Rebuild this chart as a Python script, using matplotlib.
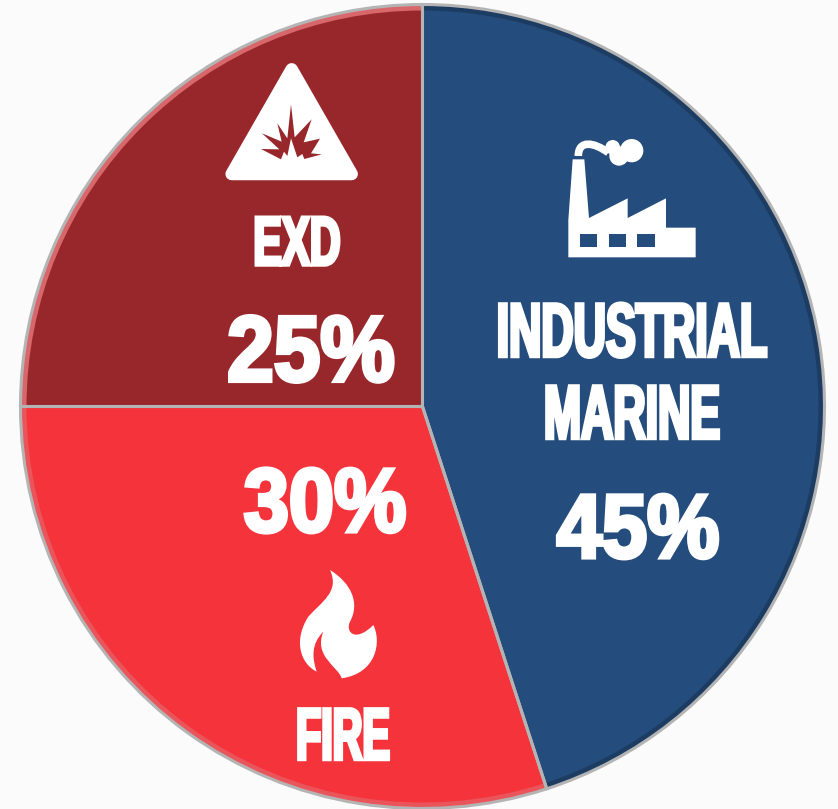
import matplotlib
matplotlib.use("AGG")
import matplotlib.pyplot as plt
import matplotlib.patheffects as pe
from matplotlib.patches import Circle, PathPatch, Polygon, Rectangle
from matplotlib.path import Path
from matplotlib.transforms import Affine2D

W, H = 838, 809

#values
categories = ["INDUSTRIAL\nMARINE", "FIRE", "EXD"]
shares = [45, 30, 25]
share_labels = ["45%", "30%", "25%"]
colors = ["#244c7c", "#f4333b", "#98272b"]
rim_colors = ["#1d3c62", "#e9555a", "#d8676b"]

plt.rcParams["font.family"] = ["Liberation Sans", "DejaVu Sans"]

#squeezes a text sideways around its centre and fattens it, no condensed face is installed
class Condensed(pe.AbstractPathEffect):
    def __init__(self, cx, squeeze, stroke, shift=0):
        super().__init__()
        self.cx = cx
        self.squeeze = squeeze
        self.stroke = stroke
        self.shift = shift

    def draw_path(self, renderer, gc, tpath, affine, rgbFace=None):
        narrow = affine + Affine2D().translate(-self.cx, 0).scale(self.squeeze, 1).translate(self.cx + self.shift, 0)
        gc0 = renderer.new_gc()
        gc0.copy_properties(gc)
        gc0.set_foreground("white")
        gc0.set_linewidth(self.stroke)
        gc0.set_joinstyle("miter")
        renderer.draw_path(gc0, tpath, narrow, rgbFace)
        gc0.restore()

#converts picture pixels (y down) to axes coordinates (y up)
def px(x, y):
    return (x, H - y)

#converts a 3x zoom crop coordinate to axes coordinates
def crop(points, x0, y0):
    return [px(x0 + x / 3, y0 + y / 3) for x, y in points]

#shift keeps the unsqueezed text box clear of edges and neighbours, the squeezed glyphs land back on x
def label(x, y, s, size, squeeze, stroke=2.5, shift=0):
    t = ax.text(*px(x - shift, y), s, color="white", fontsize=size, fontweight="bold",
                ha="center", va="center", linespacing=1.2, zorder=6)
    t.set_path_effects([Condensed(x - shift, squeeze, stroke, shift)])

fig = plt.figure(figsize=(W / 100, H / 100), dpi=100, facecolor="#fbfbfb")
ax = fig.add_axes([0, 0, 1, 1])

center = px(422.5, 406.5)

#outer pie is the bevelled rim, inner pie carries the flat colours, last one the grey seams
ax.pie(shares, colors=rim_colors, startangle=90, counterclock=False, center=center,
       radius=402, wedgeprops={"edgecolor": "none"})
ax.pie(shares, colors=colors, startangle=90, counterclock=False, center=center,
       radius=396, wedgeprops={"edgecolor": "none"})
ax.pie(shares, colors=["none"] * 3, startangle=90, counterclock=False, center=center,
       radius=402, wedgeprops={"edgecolor": "#b4b4b4", "linewidth": 2.2, "facecolor": "none"})

ax.set_xlim(0, W)
ax.set_ylim(0, H)
ax.set_aspect("equal")
ax.axis("off")

#triangle warning icon
tri = crop([(245, 58), (65, 372), (425, 372)], 210, 50)
ax.add_patch(Polygon(tri, closed=True, facecolor="white", edgecolor="white", linewidth=9,
                     joinstyle="round", zorder=5))
burst = crop([(243, 163), (254, 262), (305, 208), (281, 277), (330, 266), (303, 310), (335, 313),
              (283, 327), (277, 312), (262, 322), (243, 265), (232, 318), (222, 305), (213, 328),
              (153, 297), (208, 298), (156, 250), (215, 275), (202, 220), (232, 265)], 210, 50)
ax.add_patch(Polygon(burst, closed=True, facecolor=colors[2], edgecolor="none", zorder=6))

#factory icon
factory = crop([(55, 382), (437, 382), (437, 293), (348, 293), (348, 205), (233, 264), (233, 205),
                (117, 264), (103, 88), (68, 88), (55, 270)], 550, 130)
ax.add_patch(Polygon(factory, closed=True, facecolor="white", edgecolor="none", zorder=5))
for wx in [90, 176, 262]:
    ax.add_patch(Rectangle(px(550 + wx / 3, 130 + 352 / 3), 52 / 3, 40 / 3,
                           facecolor=colors[0], edgecolor="none", zorder=6))
for cx, cy, r in [(245, 62, 35), (207, 78, 29), (188, 52, 22)]:
    ax.add_patch(Circle(px(550 + cx / 3, 130 + cy / 3), r / 3, facecolor="white", edgecolor="none", zorder=5))
smoke = Path(crop([(85, 78), (85, 30), (130, 35), (175, 68)], 550, 130),
             [Path.MOVETO, Path.CURVE4, Path.CURVE4, Path.CURVE4])
ax.add_patch(PathPatch(smoke, facecolor="none", edgecolor="white", linewidth=5.5, zorder=5))

#flame icon
flame_pts = [(150, 30),
             (215, 70), (240, 130), (210, 185),
             (195, 215), (225, 250), (280, 195),
             (305, 245), (290, 340), (185, 355),
             (175, 320), (100, 290), (130, 215),
             (95, 250), (95, 290), (110, 335),
             (60, 310), (40, 240), (85, 170),
             (125, 125), (180, 95), (150, 30)]
flame_codes = [Path.MOVETO] + [Path.CURVE4] * 21
ax.add_patch(PathPatch(Path(crop(flame_pts, 280, 560), flame_codes),
                       facecolor="white", edgecolor="none", zorder=5))

#labels
label(632, 378, categories[0], 55, 0.585, shift=26)
label(638, 534, share_labels[0], 65, 0.9, 3)
label(343, 740, categories[1], 53, 0.56)
label(325, 508, share_labels[1], 65, 0.9, 3)
label(297, 247, categories[2], 50, 0.61)
label(311, 357, share_labels[2], 67, 0.9, 3, shift=36)

plt.savefig("out.png", dpi=100, facecolor=fig.get_facecolor())
